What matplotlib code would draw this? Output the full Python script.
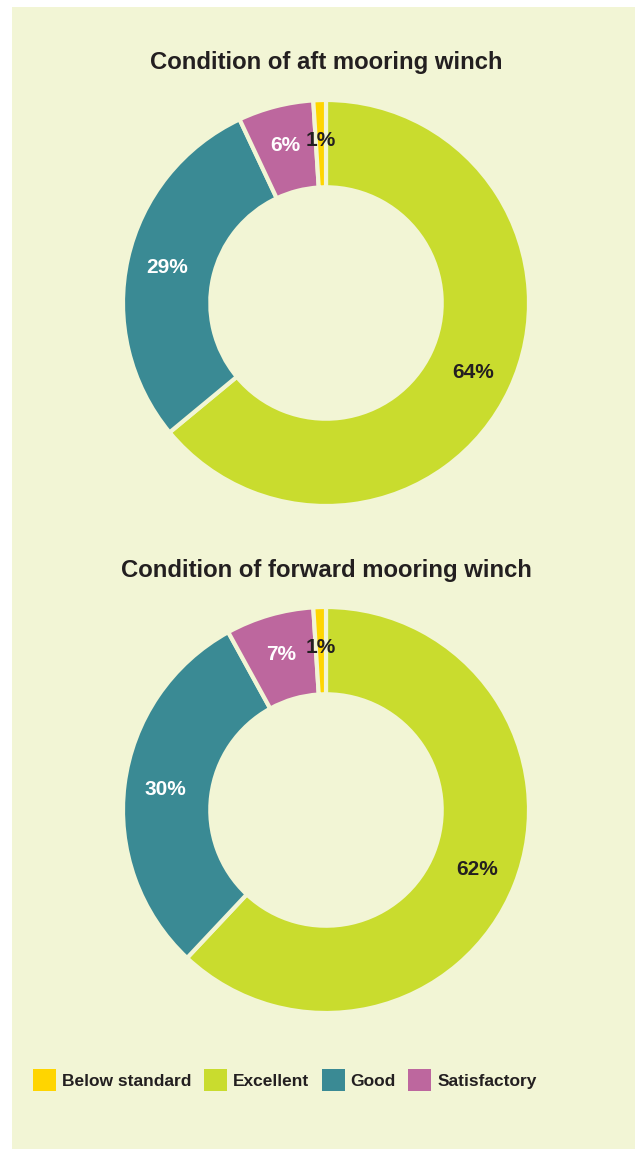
import matplotlib
matplotlib.use("Agg")
import matplotlib.pyplot as plt
from matplotlib.patches import Rectangle, Patch

plt.rcParams['font.family'] = ['Liberation Sans', 'DejaVu Sans']

# ---- data ----
categories = ["Excellent", "Good", "Satisfactory", "Below standard"]
aft_values = [64, 29, 6, 1]
fwd_values = [62, 30, 7, 1]
titles = ["Condition of aft mooring winch", "Condition of forward mooring winch"]
legend_order = ["Below standard", "Excellent", "Good", "Satisfactory"]

colors = {"Excellent": "#C9DC2E", "Good": "#3A8A94",
          "Satisfactory": "#BD679E", "Below standard": "#FFD500"}
label_colors = {"Excellent": "#231F20", "Good": "white",
                "Satisfactory": "white", "Below standard": "#231F20"}
BG = "#F2F5D5"
DARK = "#231F20"

W, H = 635, 1149
fig = plt.figure(figsize=(W / 100, H / 100), dpi=100)
fig.patch.set_facecolor("white")
fig.add_artist(Rectangle((12 / W, 0), 1 - 12 / W, 1 - 7 / H,
                         transform=fig.transFigure, facecolor=BG,
                         edgecolor="none", zorder=0))


def donut(cx, cy, r, values, title, ty):
    size = 2 * r
    ax = fig.add_axes([(cx - r) / W, 1 - (cy + r) / H, size / W, size / H])
    ax.set_facecolor("none")
    wedges, texts, autotexts = ax.pie(
        values, colors=[colors[c] for c in categories],
        startangle=90, counterclock=False, radius=1.0,
        autopct=lambda p: f"{round(p)}%", pctdistance=0.80,
        wedgeprops=dict(width=0.43, edgecolor=BG, linewidth=3),
        textprops=dict(fontsize=15, fontweight="bold"))
    for t, c in zip(autotexts, categories):
        t.set_color(label_colors[c])
    ax.set_xlim(-1, 1)
    ax.set_ylim(-1, 1)
    ax.set_aspect("equal")
    ax.axis("off")
    fig.text(cx / W, 1 - ty / H, title, ha="center", va="center",
             fontsize=17.2, fontweight="bold", color=DARK)


donut(326, 303, 203, aft_values, titles[0], 63)
donut(326, 810, 203, fwd_values, titles[1], 571)

handles = [Patch(facecolor=colors[c], edgecolor="none", label=c) for c in legend_order]
fig.legend(handles=handles, loc="center left",
           bbox_to_anchor=(33 / W, 1 - 1080 / H), ncol=4, frameon=False,
           prop=dict(weight="bold", size=12.5),
           handlelength=1.32, handleheight=1.55, handletextpad=0.35,
           columnspacing=0.72, borderpad=0, borderaxespad=0,
           labelcolor=DARK)

fig.savefig("out.png", dpi=100, facecolor="white")
